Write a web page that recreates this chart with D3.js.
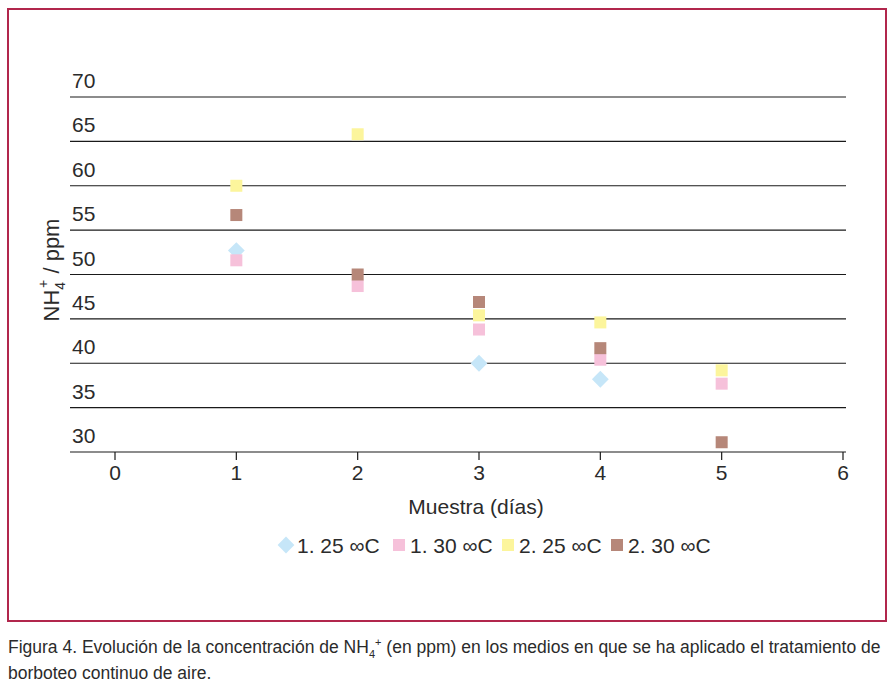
<!DOCTYPE html>
<html>
<head>
<meta charset="utf-8">
<script src="https://cdn.jsdelivr.net/npm/d3@7"></script>
<style>
  body { margin: 0; background: #fff; }
  text { font-family: "Liberation Sans", Arial, sans-serif; fill: #2b2b2b; }
</style>
</head>
<body>
<div id="wrapper"></div>
<script>
const days = [1, 2, 3, 4, 5]
const series = ["1. 25 \u221EC", "1. 30 \u221EC", "2. 25 \u221EC", "2. 30 \u221EC"]
const s1_25 = [52.7, null, 40.0, 38.2, null]
const s1_30 = [51.6, 48.7, 43.8, 40.4, 37.7]
const s2_25 = [60.0, 65.8, 45.4, 44.6, 39.2]
const s2_30 = [56.7, 50.0, 46.9, 41.7, 31.1]
const yTicks = [30, 35, 40, 45, 50, 55, 60, 65, 70]
const xTicks = [0, 1, 2, 3, 4, 5, 6]

const colors = ["#c6e6f8", "#f6c1da", "#fcf59c", "#b68779"]
const allSeries = [s1_25, s1_30, s2_25, s2_30]

const width = 894
const height = 692

const svg = d3.select("#wrapper")
  .append("svg")
  .attr("width", width)
  .attr("height", height)

// frame
svg.append("rect")
  .attr("x", 8).attr("y", 9)
  .attr("width", 878).attr("height", 612)
  .attr("fill", "none")
  .attr("stroke", "#b1264c")
  .attr("stroke-width", 2)

const xScale = d3.scaleLinear().domain([0, 6]).range([115, 843])
const yScale = d3.scaleLinear().domain([30, 70]).range([452, 97])

// horizontal gridlines
svg.append("g")
  .selectAll("line")
  .data(yTicks)
  .join("line")
  .attr("x1", 70).attr("x2", 846)
  .attr("y1", d => yScale(d)).attr("y2", d => yScale(d))
  .attr("stroke", "#1a1a1a")
  .attr("stroke-width", 1.2)

// y tick labels, sitting above the lines
svg.append("g")
  .selectAll("text")
  .data(yTicks)
  .join("text")
  .attr("x", 72)
  .attr("y", d => yScale(d) - 9)
  .style("font-size", "21px")
  .text(d => d)

// x axis ticks
svg.append("g")
  .selectAll("line")
  .data(xTicks)
  .join("line")
  .attr("x1", d => xScale(d)).attr("x2", d => xScale(d))
  .attr("y1", 452).attr("y2", 460)
  .attr("stroke", "#1a1a1a")
  .attr("stroke-width", 1.2)

svg.append("g")
  .selectAll("text")
  .data(xTicks)
  .join("text")
  .attr("x", d => xScale(d))
  .attr("y", 480)
  .attr("text-anchor", "middle")
  .style("font-size", "21px")
  .text(d => d)

// axis titles
svg.append("text")
  .attr("x", 476).attr("y", 514)
  .attr("text-anchor", "middle")
  .style("font-size", "21px")
  .text("Muestra (días)")

const yTitle = svg.append("text")
  .attr("transform", "translate(59,270) rotate(-90)")
  .attr("text-anchor", "middle")
  .style("font-size", "22px")
yTitle.append("tspan").text("NH")
yTitle.append("tspan").attr("dy", 6).style("font-size", "14px").text("4")
yTitle.append("tspan").attr("dy", -17).attr("dx", -6).style("font-size", "14px").text("+")
yTitle.append("tspan").attr("dy", 11).text(" / ppm")

// markers
const diamond = d3.symbol().type(d3.symbolDiamond2).size(180)
allSeries.forEach((vals, i) => {
  const pts = days.map((d, j) => ({ x: d, y: vals[j] })).filter(p => p.y != null)
  const g = svg.append("g")
  if (i === 0) {
    g.selectAll("path")
      .data(pts)
      .join("path")
      .attr("d", diamond)
      .attr("transform", p => `translate(${xScale(p.x)},${yScale(p.y)})`)
      .attr("fill", colors[i])
  } else {
    g.selectAll("rect")
      .data(pts)
      .join("rect")
      .attr("x", p => xScale(p.x) - 6)
      .attr("y", p => yScale(p.y) - 6)
      .attr("width", 12).attr("height", 12)
      .attr("fill", colors[i])
  }
})

// legend
const legendX = [286, 399, 508, 617]
const legend = svg.append("g")
series.forEach((name, i) => {
  if (i === 0) {
    legend.append("path")
      .attr("d", diamond())
      .attr("transform", `translate(${legendX[i]},545)`)
      .attr("fill", colors[i])
  } else {
    legend.append("rect")
      .attr("x", legendX[i] - 6).attr("y", 539)
      .attr("width", 12).attr("height", 12)
      .attr("fill", colors[i])
  }
  legend.append("text")
    .attr("x", legendX[i] + 11).attr("y", 553)
    .style("font-size", "21px")
    .text(name)
})

// caption
const cap = svg.append("text")
  .attr("x", 8).attr("y", 653)
  .style("font-size", "17.5px")
cap.append("tspan").text("Figura 4. Evolución de la concentración de NH")
cap.append("tspan").attr("dy", 5).style("font-size", "11px").text("4")
cap.append("tspan").attr("dy", -12).style("font-size", "11px").text("+")
cap.append("tspan").attr("dy", 7).text(" (en ppm) en los medios en que se ha aplicado el tratamiento de")

svg.append("text")
  .attr("x", 8).attr("y", 679)
  .style("font-size", "17.5px")
  .text("borboteo continuo de aire.")
</script>
</body>
</html>
